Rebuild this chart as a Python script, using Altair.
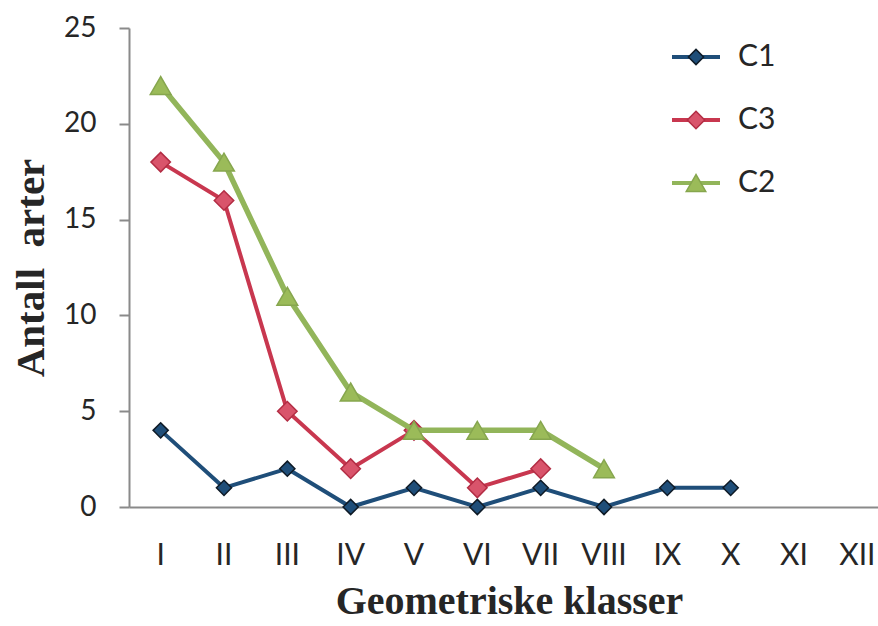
import altair as alt
import pandas as pd

# ---- data ----
classes = ["I", "II", "III", "IV", "V", "VI", "VII", "VIII", "IX", "X", "XI", "XII"]
series_names = ["C1", "C3", "C2"]
c1_values = [4, 1, 2, 0, 1, 0, 1, 0, 1, 1]
c3_values = [18, 16, 5, 2, 4, 1, 2]
c2_values = [22, 18, 11, 6, 4, 4, 4, 2]
y_ticks = [0, 5, 10, 15, 20, 25]

rows = []
for name, vals in zip(series_names, [c1_values, c3_values, c2_values]):
    for cls, v in zip(classes, vals):
        rows.append({"series": name, "klasse": cls, "antall": v})
df = pd.DataFrame(rows)
legend_df = pd.DataFrame({"series": series_names})

# ---- styles ----
line_colors = ["#1f4e79", "#c8374f", "#92b55a"]
fill_colors = ["#1f4e79", "#d9546b", "#9bbb59"]
stroke_colors = ["#0e1a26", "#b32d44", "#86a64e"]
shapes = ["diamond", "diamond", "triangle-up"]
sizes = [230, 380, 430]
widths = [4, 4, 5.5]
TEXT = "#262626"
AXIS = "#8a8a8a"

x_enc = alt.X(
    "klasse:N",
    sort=classes,
    scale=alt.Scale(type="band", domain=classes, range=[0, 760], paddingInner=0, paddingOuter=0),
    axis=alt.Axis(
        title="Geometriske klasser",
        labelAngle=0,
        labelFont="Lato",
        labelFontSize=30,
        labelColor=TEXT,
        labelBaseline="alphabetic",
        labelPadding=57,
        ticks=False,
        tickSize=0,
        domainColor=AXIS,
        domainWidth=2,
        grid=False,
        titleFont="Liberation Serif",
        titleFontWeight="bold",
        titleFontSize=40,
        titleColor=TEXT,
        titleBaseline="alphabetic",
        titleY=106,
        titleX=380,
    ),
)
y_enc = alt.Y(
    "antall:Q",
    scale=alt.Scale(domain=[0, 25], nice=False),
    axis=alt.Axis(
        title="Antall\u00a0\u00a0arter",
        values=y_ticks,
        labelFont="Lato",
        labelFontSize=28,
        labelColor=TEXT,
        labelPadding=23,
        tickSize=10,
        tickColor=AXIS,
        tickWidth=2,
        domainColor=AXIS,
        domainWidth=2,
        grid=False,
        titleFont="Liberation Serif",
        titleFontWeight="bold",
        titleFontSize=41,
        titleColor=TEXT,
        titleBaseline="alphabetic",
        titleX=-86,
    ),
)

main_layers = []
for i, name in enumerate(series_names):
    base = alt.Chart(df).transform_filter(alt.datum.series == name).encode(x=x_enc, y=y_enc)
    main_layers.append(base.mark_line(color=line_colors[i], strokeWidth=widths[i]))
    main_layers.append(
        base.mark_point(
            shape=shapes[i], size=sizes[i], filled=True, opacity=1,
            fill=fill_colors[i], stroke=stroke_colors[i], strokeWidth=1.5,
        )
    )

# ---- legend ----
leg_y = alt.Y("series:N", scale=alt.Scale(type="point", domain=series_names, range=[29, 155], padding=0), axis=None)
leg_base = alt.Chart(legend_df).encode(y=leg_y)
leg_rule = leg_base.mark_rule().encode(
    x=alt.value(543), x2=alt.value(591),
    color=alt.Color("series:N", scale=alt.Scale(domain=series_names, range=line_colors), legend=None),
    strokeWidth=alt.StrokeWidth("series:N", scale=alt.Scale(domain=series_names, range=widths), legend=None),
)
leg_pts = leg_base.mark_point(filled=True, opacity=1, strokeWidth=1.5).encode(
    x=alt.value(567),
    shape=alt.Shape("series:N", scale=alt.Scale(domain=series_names, range=shapes), legend=None),
    size=alt.Size("series:N", scale=alt.Scale(domain=series_names, range=sizes), legend=None),
    fill=alt.Fill("series:N", scale=alt.Scale(domain=series_names, range=fill_colors), legend=None),
    stroke=alt.Stroke("series:N", scale=alt.Scale(domain=series_names, range=stroke_colors), legend=None),
)
leg_txt = leg_base.mark_text(align="left", baseline="middle", font="Lato", fontSize=30, color=TEXT).encode(
    x=alt.value(609), text="series:N"
)

chart = (
    alt.layer(alt.layer(*main_layers), alt.layer(leg_rule, leg_pts, leg_txt))
    .resolve_scale(y="independent")
    .properties(
        width=749,
        height=479,
        padding={"left": 129, "top": 28, "right": 0, "bottom": 119},
        autosize=alt.AutoSizeParams(type="none"),
        background="white",
    )
    .configure_view(stroke=None)
)

chart.save("out.html", embed_options={"renderer": "svg", "actions": False})
